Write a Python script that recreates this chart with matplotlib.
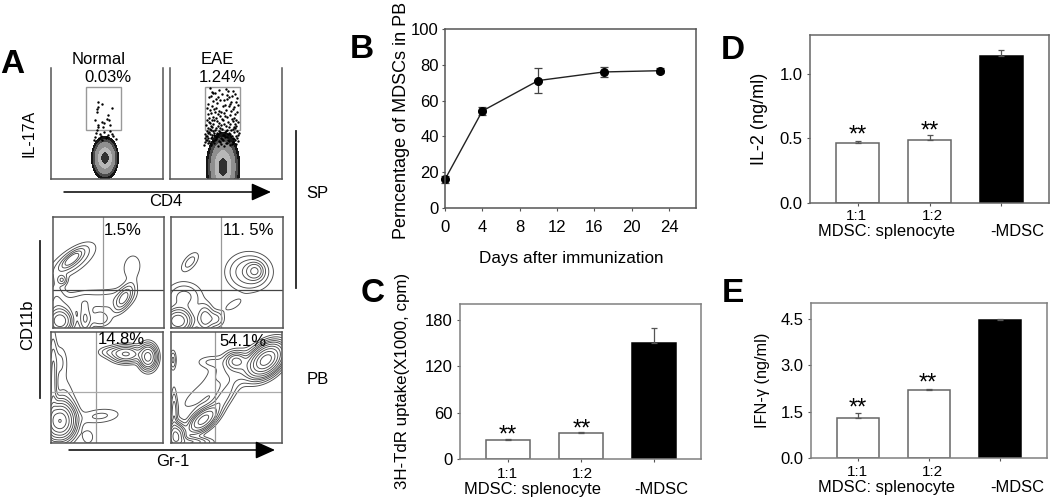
import numpy as np
import matplotlib
matplotlib.use('Agg')
import matplotlib.pyplot as plt

plt.rcParams['font.family'] = ['Liberation Sans', 'DejaVu Sans']
plt.rcParams['font.size'] = 12

W, H = 1050, 498

# panel B
days = [0, 4, 10, 17, 23]
mdsc_pct = [16, 54.2, 71.2, 76, 76.7]
mdsc_err = [2, 2.2, 7.2, 2.7, 1.3]

# panels C, D, E
bar_pos = [0, 1, 2]
bar_fill = ['white', 'white', 'black']
tdr_vals = [24, 33, 150]
tdr_err = [2, 2, 20]
il2_vals = [0.465, 0.49, 1.138]
il2_err = [0.018, 0.037, 0.047]
ifn_vals = [1.295, 2.21, 4.48]
ifn_err = [0.16, 0.035, 0.03]

normal_dots = [(98, 102), (102, 104), (98, 107), (97, 109), (112, 108), (97, 112), (108, 115), (107, 119),
               (95, 120), (102, 122), (104, 123), (109, 120), (98, 125), (103, 127), (98, 127), (110, 125),
               (96, 133), (100, 134), (104, 132), (108, 135), (113, 136), (95, 137), (110, 131), (99, 138),
               (106, 138), (116, 139), (94, 140), (102, 140), (97, 130), (101, 136), (107, 137), (112, 134)]
eae_dots = [(210, 88), (213, 93), (219, 90), (227, 95), (233, 91), (209, 97), (212, 92), (216, 99), (226, 89),
            (229, 97), (235, 94), (208, 104), (211, 96), (215, 93), (224, 100), (228, 91), (231, 102), (237, 98),
            (207, 108), (213, 101), (218, 97), (222, 94), (225, 105), (232, 96), (234, 107), (210, 110), (212, 106),
            (217, 103), (220, 100), (230, 104), (236, 102), (208, 114), (214, 109), (219, 111), (223, 106), (227, 99),
            (233, 109), (209, 118), (211, 113), (216, 108), (221, 112), (226, 110), (229, 106), (235, 114), (238, 105),
            (207, 120), (213, 117), (215, 112), (220, 116), (224, 113), (231, 111), (234, 118), (237, 112), (210, 123),
            (212, 120), (218, 114), (222, 119), (227, 117), (230, 115), (233, 121), (236, 120), (206, 125), (209, 122),
            (214, 120), (216, 118), (219, 123), (225, 116), (228, 122), (232, 119), (235, 124), (208, 128), (211, 126),
            (213, 124), (217, 121), (221, 125), (223, 120), (226, 126), (230, 124), (234, 127), (238, 122), (207, 131),
            (210, 129), (212, 127), (215, 130), (218, 126), (220, 128), (224, 124), (227, 130), (229, 127), (233, 129),
            (236, 126), (205, 134), (209, 132), (211, 130), (214, 133), (216, 128), (219, 131), (222, 129), (225, 132),
            (228, 134), (231, 130), (235, 128), (237, 131), (206, 136), (208, 133), (212, 135), (213, 131), (217, 133),
            (220, 132), (223, 135), (226, 131), (230, 134), (232, 136), (234, 132), (239, 133), (205, 138), (207, 136),
            (210, 134), (211, 138), (214, 135), (216, 137), (218, 134), (221, 138), (224, 135), (227, 137), (229, 133),
            (233, 138), (236, 136), (238, 135), (206, 140), (208, 138), (209, 141), (212, 137), (215, 140), (217, 136),
            (219, 141), (222, 139), (225, 137), (228, 140), (231, 136), (234, 139), (237, 138), (205, 142), (207, 140),
            (210, 143), (213, 141), (216, 139), (220, 142), (223, 140), (226, 143), (229, 141), (232, 144), (235, 140),
            (204, 145), (208, 143), (211, 145), (214, 143), (218, 146), (221, 144), (224, 146), (227, 143), (230, 145),
            (233, 142), (236, 144), (238, 141)]

# density blobs in picture pixels: x, y, sx, sy, angle, height
normal_sp_blobs = [(72, 261, 7, 17, 55, 0.5), (72, 259, 3, 8, 50, 1.0), (62, 280, 3, 3, 0, 0.6), (124, 298, 4, 9, 30, 1.0),
                   (132, 267, 7, 10, 10, 0.24), (117, 300, 14, 7, -20, 0.25), (82, 301, 22, 7, -8, 0.35),
                   (60, 321, 7, 7, 0, 3.0), (85, 319, 4, 9, 0, 0.7), (100, 319, 7, 5, 0, 0.4), (56, 297, 6, 12, 0, 0.35)]
eae_sp_blobs = [(255, 271, 5, 5, 0, 1.1), (249, 272, 13, 11, 0, 0.75), (190, 262, 4, 8, 40, 0.35),
                (178, 321, 8, 7, 0, 3.0), (205, 318, 5, 8, 0, 0.9), (216, 319, 5, 5, 0, 0.5),
                (233, 305, 9, 4, -30, 0.18), (184, 297, 11, 9, 0, 0.55)]
normal_pb_blobs = [(126, 354, 9, 5, 0, 1.6), (148, 357, 5, 7, 0, 2.6), (108, 352, 7, 3.5, 0, 0.3),
                   (60, 421, 8, 10, 0, 6.0), (53, 385, 2.5, 30, 0, 0.8), (100, 416, 14, 5, -6, 0.3),
                   (88, 437, 4, 5, 0, 0.25), (60, 362, 5, 11, 0, 0.3), (64, 398, 7, 14, 0, 0.25)]
eae_pb_blobs = [(266, 360, 11, 7, -42, 7.0), (236, 361, 6, 5, 0, 1.4), (238, 368, 17, 10, -20, 0.5),
                (203, 420, 10, 5, -40, 2.6), (223, 398, 5, 14, 35, 0.6), (198, 395, 20, 7, -40, 0.18),
                (176, 436, 5, 7, 0, 3.5), (173, 360, 2, 6, 0, 0.5), (174, 415, 2, 16, 0, 0.6),
                (210, 362, 9, 4, 0, 0.25), (190, 442, 12, 3, 0, 1.0)]
contour_levels = [0.13, 0.26, 0.45, 0.7, 1.0, 1.5, 2.2, 3.2, 4.5, 6.0]


def pixel_axes(left, top, right, bottom):
    return fig.add_axes([left / W, 1 - bottom / H, (right - left) / W, (bottom - top) / H])


def blob_field(xx, yy, blobs):
    z = np.zeros_like(xx)
    for cx, cy, sx, sy, ang, amp in blobs:
        a = np.deg2rad(ang)
        u = (xx - cx) * np.cos(a) + (yy - cy) * np.sin(a)
        v = -(xx - cx) * np.sin(a) + (yy - cy) * np.cos(a)
        z = z + amp * np.exp(-0.5 * (u / sx) ** 2 - 0.5 * (v / sy) ** 2)
    return z


def flow_axes(left, top, right, bottom, open_top=False):
    ax = pixel_axes(left, top, right, bottom)
    ax.set_xlim(left, right)
    ax.set_ylim(bottom, top)
    ax.set_xticks([])
    ax.set_yticks([])
    for s in ax.spines.values():
        s.set_color('#555555')
        s.set_linewidth(1.1)
    if open_top:
        ax.spines['top'].set_visible(False)
    return ax


def contour_panel(box, blobs, vx, hy, hcolor):
    ax = flow_axes(*box)
    xx, yy = np.meshgrid(np.linspace(box[0], box[2], 300), np.linspace(box[1], box[3], 300))
    ax.contour(xx, yy, blob_field(xx, yy, blobs), levels=contour_levels, colors='#4a4a4a', linewidths=0.65)
    ax.axvline(vx, color='#999999', lw=0.9)
    ax.axhline(hy, color=hcolor, lw=0.9)
    return ax


def dot_panel(box, gate, dots, cx, cy, sx, sy):
    ax = flow_axes(*box, open_top=True)
    xx, yy = np.meshgrid(np.linspace(box[0], box[2], 300), np.linspace(box[1], box[3], 300))
    z = np.exp(-0.5 * ((xx - cx) / sx) ** 2 - 0.5 * ((yy - cy) / sy) ** 2)
    ax.contourf(xx, yy, z, levels=[0.1, 0.18, 0.3, 0.6, 0.88, 1.01],
                colors=['#151515', '#4a4a4a', '#8f8f8f', '#b8b8b8', '#303030'])
    ax.add_patch(plt.Rectangle((gate[0], gate[1]), gate[2] - gate[0], gate[3] - gate[1],
                               fill=False, ec='#999999', lw=1.0))
    ax.scatter([d[0] for d in dots], [d[1] for d in dots], s=3, color='black', lw=0)
    return ax


def bar_panel(box, vals, errs, top_val, yticks, ylabels, xlim, frame):
    ax = pixel_axes(*box)
    ax.bar(bar_pos, vals, width=0.6, color=bar_fill, edgecolor=['#666666', '#666666', 'black'], linewidth=1.1)
    ax.errorbar(bar_pos, vals, yerr=[[0, 0, 0], errs], fmt='none', ecolor='#555555',
                elinewidth=0.9, capsize=2.5, capthick=0.9)
    ax.set_xlim(*xlim)
    ax.set_ylim(0, top_val)
    ax.set_xticks(bar_pos)
    ax.set_xticklabels([])
    ax.set_yticks(yticks)
    ax.set_yticklabels(ylabels, fontsize=12)
    ax.tick_params(axis='x', length=2, width=0.8, color='#555555')
    ax.tick_params(axis='y', length=2.5, width=0.8, color='#555555', pad=3)
    for s in ax.spines.values():
        s.set_color(frame)
        s.set_linewidth(1.1)
    return ax


fig = plt.figure(figsize=(W / 100, H / 100), dpi=100)

# panel A, dot plots
dot_panel((51, 68, 163, 179), (86, 87, 121, 130), normal_dots, 105, 158, 6.3, 10)
dot_panel((170, 68, 282, 179), (205, 87, 240, 130), eae_dots, 223, 167, 7.8, 16)

# panel A, contour plots
contour_panel((53, 217, 164, 328), normal_sp_blobs, 103, 290, '#444444')
contour_panel((171, 217, 283, 328), eae_sp_blobs, 221, 290, '#444444')
contour_panel((51, 332, 163, 443), normal_pb_blobs, 96, 392, '#aaaaaa')
contour_panel((171, 332, 282, 443), eae_pb_blobs, 215, 392, '#aaaaaa')

# panel B
ax_b = pixel_axes(445, 29, 696, 208)
ax_b.errorbar(days, mdsc_pct, yerr=mdsc_err, color='#222222', lw=1.0, ecolor='#444444', elinewidth=0.9,
              capsize=3, capthick=0.9, marker='o', ms=5.5, mfc='black', mec='black', clip_on=False)
ax_b.set_xlim(0, 26.9)
ax_b.set_ylim(0, 100)
ax_b.set_xticks(range(0, 25, 4))
ax_b.set_yticks(range(0, 101, 20))
ax_b.tick_params(labelsize=12, length=2.5, width=0.8, color='#555555')
ax_b.tick_params(axis='x', pad=6)
ax_b.tick_params(axis='y', pad=2)
for s in ax_b.spines.values():
    s.set_color('#555555')
    s.set_linewidth(1.1)

# panels C, D, E
bar_panel((460, 304, 701, 459), tdr_vals, tdr_err, 200.5, [0, 60, 120, 180], ['0', '60', '120', '180'], (-0.658, 2.644), '#808080')
bar_panel((810, 35, 1049, 203), il2_vals, il2_err, 1.302, [0, 0.5, 1.0], ['0.0', '0.5', '1.0'], (-0.66, 2.66), '#666666')
bar_panel((811, 303, 1047, 458), ifn_vals, ifn_err, 5.02, [0, 1.5, 3.0, 4.5], ['0.0', '1.5', '3.0', '4.5'], (-0.66, 2.66), '#808080')

# overlay for labels, arrows and rules, in picture pixels
ov = fig.add_axes([0, 0, 1, 1], zorder=10)
ov.set_xlim(0, W)
ov.set_ylim(H, 0)
ov.axis('off')


def put(x, y, s, size=12, rot=0, weight='normal'):
    ov.text(x, y, s, fontsize=size, rotation=rot, weight=weight, ha='center', va='center')


for x, y, s in [(12, 64, 'A'), (362, 49, 'B'), (373, 293, 'C'), (733, 50, 'D'), (733, 293, 'E')]:
    put(x, y, s, size=24, weight='bold')

put(99, 59, 'Normal')
put(217, 59, 'EAE')
put(108, 77, '0.03%')
put(222, 77, '1.24%')
put(29, 133, 'IL-17A', 11.5, rot=90)
put(166, 201, 'CD4')
put(317, 193, 'SP')
put(318, 379, 'PB')
put(28, 325, 'CD11b', rot=90)
put(173, 461, 'Gr-1')
put(123, 230, '1.5%')
put(248, 230, '11. 5%')
put(121, 339, '14.8%')
put(243, 341, '54.1%')

ov.plot([296, 296], [131, 288], color='#222222', lw=1.3)
ov.plot([40, 40], [241, 398], color='#222222', lw=1.3)
ov.annotate('', xy=(271, 192), xytext=(64, 192),
            arrowprops=dict(arrowstyle='-|>,head_width=0.45,head_length=1.0', color='black', lw=1.1, shrinkA=0, shrinkB=0))
ov.annotate('', xy=(275, 450), xytext=(69, 450),
            arrowprops=dict(arrowstyle='-|>,head_width=0.45,head_length=1.0', color='black', lw=1.1, shrinkA=0, shrinkB=0))

put(401, 120, 'Perncentage of MDSCs in PB', 13, rot=90)
put(571, 258, 'Days after immunization', 12.3)

put(403, 381, '3H-TdR uptake(X1000, cpm)', 12.2, rot=90)
put(760, 119, 'IL-2 (ng/ml)', 13, rot=90)
put(762, 380, 'IFN-\u03b3 (ng/ml)', 11.7, rot=90)

for x1, x2, xm, xd, y1, y2 in [(507, 582, 532, 661, 474, 489), (856, 932, 887, 1017, 216, 231), (857, 932, 887, 1017, 472, 487)]:
    put(x1, y1, '1:1', 11)
    put(x2, y1, '1:2', 11)
    put(xm, y2, 'MDSC: splenocyte', 11.9)
    put(xd, y2, '-MDSC', 11.9)

for x, y in [(508, 436), (582, 430), (858, 136), (930, 132), (858, 409), (928, 384)]:
    put(x, y, '**', 17)

fig.savefig('out.png', dpi=100)
